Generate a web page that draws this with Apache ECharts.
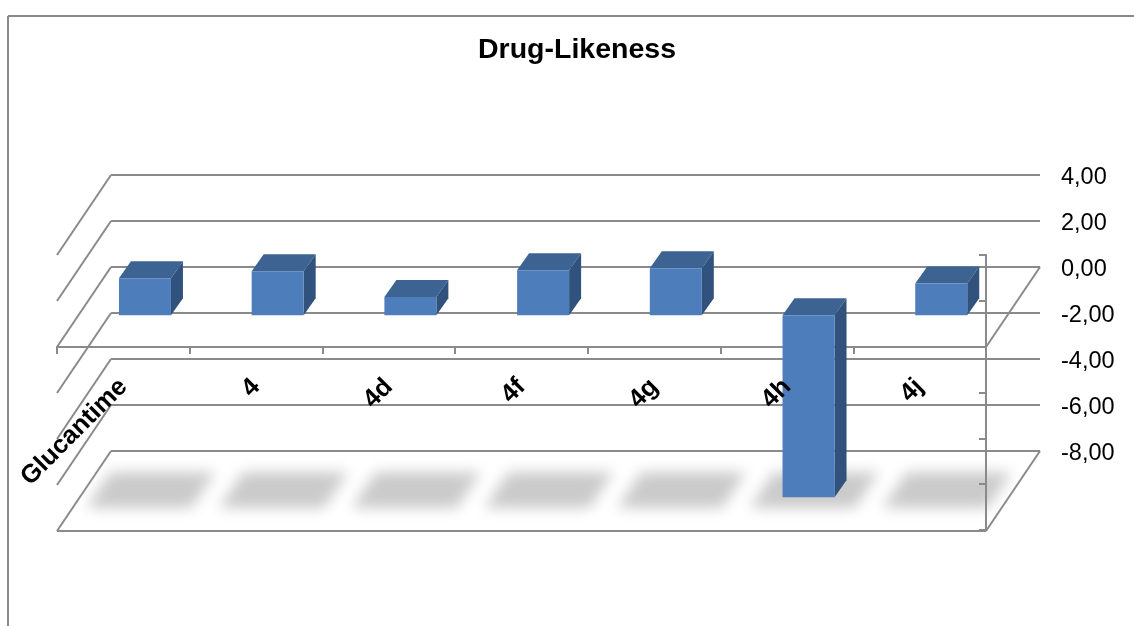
<!DOCTYPE html>
<html><head><meta charset="utf-8">
<style>html,body{margin:0;padding:0;background:#fff}#c{width:1134px;height:626px}</style>
<script src="https://cdn.jsdelivr.net/npm/echarts@6/dist/echarts.min.js"></script>
</head><body><div id="c"></div>
<script>
const categories = ['Glucantime','4','4d','4f','4g','4h','4j'];
const drugLikeness = [1.61,1.92,0.79,1.96,2.05,-7.94,1.38];
const yTicks = [4,2,0,-2,-4,-6,-8];

const LINE = '#8a8a8a';
const LW = 2;
const FONT = '"Liberation Sans", Arial, sans-serif';
const DX = 54, DY = 80;          // depth from the back wall to the front plane
const OFF = 3000;                // shadow caster sits off-page so only its blur shows
const chart = echarts.init(document.getElementById('c'), null, {renderer:'canvas'});

function seg(a,b,w){return {type:'line',shape:{x1:a[0],y1:a[1],x2:b[0],y2:b[1]},style:{stroke:LINE,lineWidth:w||LW,fill:null}};}
function poly(pts,fill,extra){return {type:'polygon',shape:{points:pts},style:Object.assign({fill:fill},extra||{})};}

const fmt = v => v.toFixed(2).replace('.',',');
const catAxis = {type:'category',data:categories,position:'bottom',splitLine:{show:false}};

chart.setOption({
  animation:false,
  backgroundColor:'#fff',
  title:{text:'Drug-Likeness',left:572,top:31,textAlign:'center',
    textStyle:{fontFamily:FONT,fontWeight:'bold',fontSize:28.5,color:'#000'}},
  graphic:[
    {type:'line',shape:{x1:8,y1:16,x2:1134,y2:16},style:{stroke:LINE,lineWidth:2}},
    {type:'line',shape:{x1:8,y1:16,x2:8,y2:626},style:{stroke:LINE,lineWidth:2}}
  ],
  grid:[
    {left:111,width:929,top:175,height:276,outerBoundsMode:'none'},   // back wall
    {left:57,width:929,top:255,height:275,outerBoundsMode:'none'},    // front plane
    {left:57,width:929,top:255,height:92,outerBoundsMode:'none'},     // front plane above zero: axis line and ticks
    {left:57,width:929,top:255,height:92,outerBoundsMode:'none'},     // same: category labels, above the bars
    {left:111,width:929,top:178,height:276,outerBoundsMode:'none'}    // back wall value labels
  ],
  xAxis:[
    Object.assign({},catAxis,{gridIndex:0,show:false}),
    Object.assign({},catAxis,{gridIndex:1,show:false}),
    Object.assign({},catAxis,{gridIndex:2,z:1,
      axisLine:{onZero:false,lineStyle:{color:LINE,width:LW}},
      axisTick:{show:true,length:7,lineStyle:{color:LINE,width:LW}},
      axisLabel:{show:false}}),
    Object.assign({},catAxis,{gridIndex:3,z:8,
      axisLine:{show:false,onZero:false},axisTick:{show:false},
      axisLabel:{interval:0,rotate:45,margin:36,color:'#000',fontFamily:FONT,fontWeight:'bold',fontSize:25.5}}),
    Object.assign({},catAxis,{gridIndex:4,show:false})
  ],
  yAxis:[
    {gridIndex:0,type:'value',min:-8,max:4,interval:2,position:'right',
      axisLine:{show:false},axisTick:{show:false},axisLabel:{show:false},
      splitLine:{show:true,lineStyle:{color:LINE,width:LW,type:'solid'}}},
    {gridIndex:1,type:'value',min:-8,max:4,interval:2,position:'right',z:4,
      axisLine:{show:true,onZero:false,lineStyle:{color:LINE,width:LW}},
      axisTick:{show:true,inside:true,length:7,lineStyle:{color:LINE,width:LW}},
      axisLabel:{show:false},splitLine:{show:false}},
    {gridIndex:2,type:'value',min:0,max:4,show:false},
    {gridIndex:3,type:'value',min:0,max:4,show:false},
    {gridIndex:4,type:'value',min:-8,max:4,interval:2,position:'right',
      axisLine:{show:false},axisTick:{show:false},splitLine:{show:false},
      axisLabel:{margin:21,color:'#000',fontFamily:FONT,fontSize:23.5,formatter:fmt}}
  ],
  series:[
    { // side walls: every tick of the back wall runs forward on the left; 0 and the minimum on the right
      type:'custom',xAxisIndex:0,yAxisIndex:0,z:1,silent:true,
      data:yTicks.map(v=>[v]),
      renderItem:function(p,api){
        const v=api.value(0);
        const y=api.coord([0,v])[1];
        const L=111,R=1040;
        const kids=[seg([L,y],[L-DX,y+DY])];
        if(v===0||v===-8) kids.push(seg([R,y],[R-DX,y+DY]));
        if(v===-8) kids.push(seg([L-DX,y+DY],[R-DX,y+DY]));
        return {type:'group',children:kids};
      }
    },
    { // blurred floor shadows
      type:'custom',xAxisIndex:1,yAxisIndex:1,z:2,silent:true,
      data:categories.map((c,i)=>[i]),
      renderItem:function(p,api){
        const c=api.coord([api.value(0),-8]);
        const x=c[0]-OFF, yb=c[1]-22, yt=c[1]-58;
        return poly([[x-37,yb],[x+68,yb],[x+92,yt],[x-13,yt]],'#cbcbcb',
          {shadowBlur:14,shadowColor:'#cbcbcb',shadowOffsetX:OFF});
      }
    },
    { // bars, standing part-way through the depth
      type:'custom',xAxisIndex:1,yAxisIndex:1,z:5,silent:true,
      data:drugLikeness.map((v,i)=>[i,v]),
      renderItem:function(p,api){
        const i=api.value(0),v=api.value(1);
        const z=api.coord([i,0]), t=api.coord([i,v]);
        const ox=21.6, oy=-31.5, hw=26, bx=12, by=-17;
        const cx=z[0]+ox;
        const y1=Math.min(z[1],t[1])+oy, y2=Math.max(z[1],t[1])+oy;
        const l=cx-hw, r=cx+hw;
        return {type:'group',children:[
          poly([[l,y1],[r,y1],[r+bx,y1+by],[l+bx,y1+by]],'#3c6392'),
          poly([[r,y1],[r+bx,y1+by],[r+bx,y2+by],[r,y2]],'#30527c'),
          poly([[l,y1],[r,y1],[r,y2],[l,y2]],'#4d7ebb')
        ]};
      }
    }
  ]
});
</script></body></html>
